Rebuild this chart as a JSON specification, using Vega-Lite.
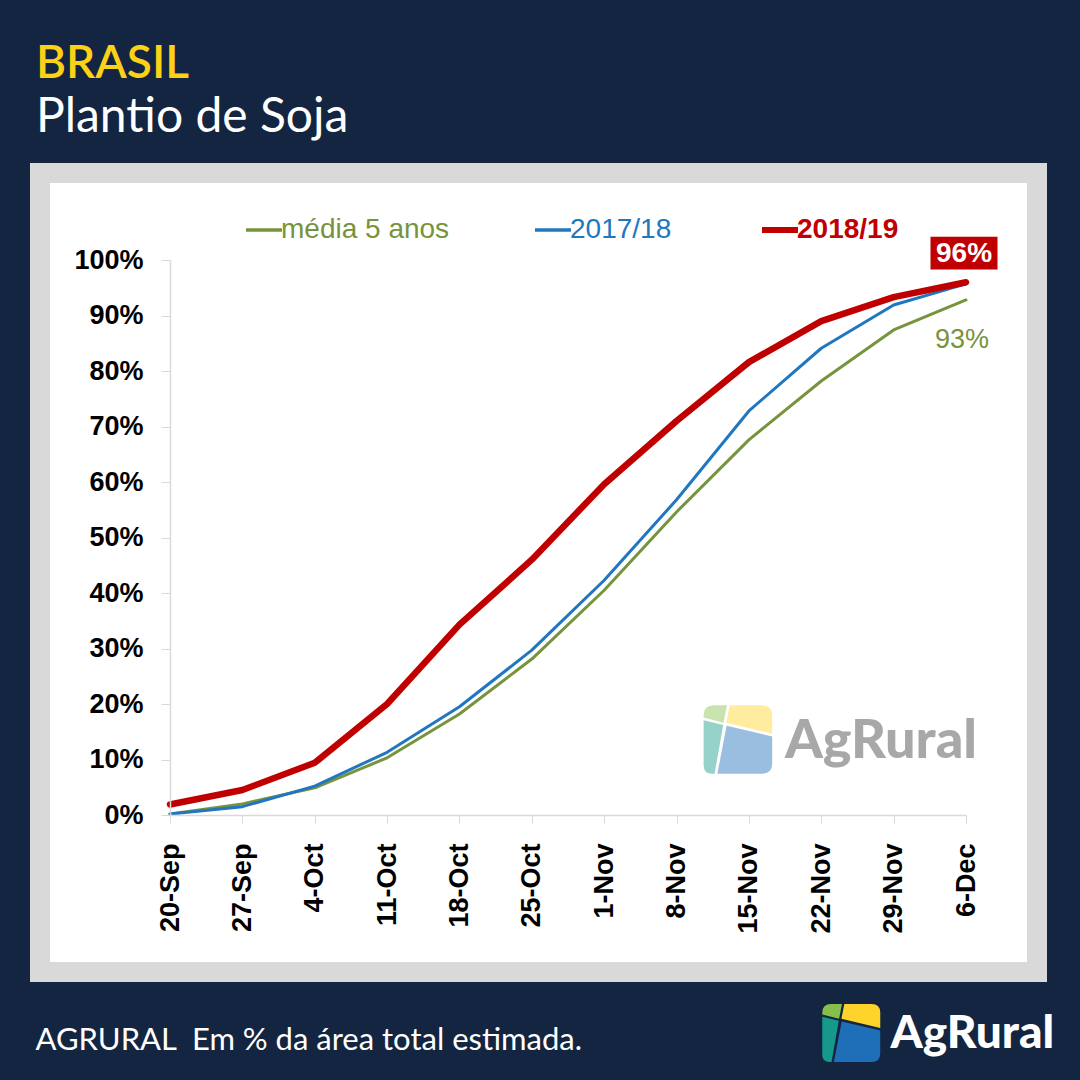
{
  "$schema": "https://vega.github.io/schema/vega-lite/v6.json",
  "width": 997,
  "height": 799,
  "autosize": {"type": "none"},
  "padding": {"left": 40, "top": 173, "right": 43, "bottom": 108},
  "background": "#132541",
  "title": {
    "text": "BRASIL",
    "subtitle": "Plantio de Soja",
    "anchor": "start",
    "frame": "group",
    "font": "Lato",
    "fontSize": 46,
    "fontWeight": 600,
    "color": "#FCD116",
    "subtitleFont": "Lato",
    "subtitleFontSize": 48,
    "subtitleFontWeight": 400,
    "subtitleColor": "#ffffff",
    "subtitlePadding": 6,
    "offset": 30,
    "dx": -4
  },
  "config": {
    "view": {"fill": "#ffffff", "stroke": "#d9d9d9", "strokeWidth": 20}
  },
  "data": {
    "values": [
      {"date": "20-Sep", "serie": "média 5 anos", "pct": 0.002},
      {"date": "27-Sep", "serie": "média 5 anos", "pct": 0.020},
      {"date": "4-Oct", "serie": "média 5 anos", "pct": 0.049},
      {"date": "11-Oct", "serie": "média 5 anos", "pct": 0.103},
      {"date": "18-Oct", "serie": "média 5 anos", "pct": 0.182},
      {"date": "25-Oct", "serie": "média 5 anos", "pct": 0.281},
      {"date": "1-Nov", "serie": "média 5 anos", "pct": 0.405},
      {"date": "8-Nov", "serie": "média 5 anos", "pct": 0.546},
      {"date": "15-Nov", "serie": "média 5 anos", "pct": 0.676},
      {"date": "22-Nov", "serie": "média 5 anos", "pct": 0.782},
      {"date": "29-Nov", "serie": "média 5 anos", "pct": 0.874},
      {"date": "6-Dec", "serie": "média 5 anos", "pct": 0.928},
      {"date": "20-Sep", "serie": "2017/18", "pct": 0.002},
      {"date": "27-Sep", "serie": "2017/18", "pct": 0.015},
      {"date": "4-Oct", "serie": "2017/18", "pct": 0.052},
      {"date": "11-Oct", "serie": "2017/18", "pct": 0.113},
      {"date": "18-Oct", "serie": "2017/18", "pct": 0.195},
      {"date": "25-Oct", "serie": "2017/18", "pct": 0.297},
      {"date": "1-Nov", "serie": "2017/18", "pct": 0.423},
      {"date": "8-Nov", "serie": "2017/18", "pct": 0.568},
      {"date": "15-Nov", "serie": "2017/18", "pct": 0.728},
      {"date": "22-Nov", "serie": "2017/18", "pct": 0.841},
      {"date": "29-Nov", "serie": "2017/18", "pct": 0.919},
      {"date": "6-Dec", "serie": "2017/18", "pct": 0.957},
      {"date": "20-Sep", "serie": "2018/19", "pct": 0.019},
      {"date": "27-Sep", "serie": "2018/19", "pct": 0.045},
      {"date": "4-Oct", "serie": "2018/19", "pct": 0.094},
      {"date": "11-Oct", "serie": "2018/19", "pct": 0.200},
      {"date": "18-Oct", "serie": "2018/19", "pct": 0.343},
      {"date": "25-Oct", "serie": "2018/19", "pct": 0.460},
      {"date": "1-Nov", "serie": "2018/19", "pct": 0.596},
      {"date": "8-Nov", "serie": "2018/19", "pct": 0.710},
      {"date": "15-Nov", "serie": "2018/19", "pct": 0.816},
      {"date": "22-Nov", "serie": "2018/19", "pct": 0.890},
      {"date": "29-Nov", "serie": "2018/19", "pct": 0.933},
      {"date": "6-Dec", "serie": "2018/19", "pct": 0.960}
    ]
  },
  "layer": [
    {
      "mark": {"type": "line", "interpolate": "linear", "strokeCap": "round", "strokeJoin": "round"},
      "encoding": {
        "x": {
          "field": "date", "type": "ordinal", "sort": null,
          "scale": {"type": "point", "domain": ["20-Sep", "27-Sep", "4-Oct", "11-Oct", "18-Oct", "25-Oct", "1-Nov", "8-Nov", "15-Nov", "22-Nov", "29-Nov", "6-Dec"], "range": [130, 926], "padding": 0},
          "axis": {
            "title": "AGRURAL\u00a0 Em % da área total estimada.",
            "titleX": -5, "titleY": 234, "titleAlign": "left", "titleAnchor": "start", "titleBaseline": "alphabetic",
            "titleFont": "Lato", "titleFontSize": 31, "titleFontWeight": 400, "titleColor": "#ffffff",
            "offset": -157, "labelAngle": -90, "labelFont": "Liberation Sans", "labelFontSize": 27, "labelFontWeight": "bold",
            "labelColor": "#000000", "labelPadding": 20, "tickSize": 8, "tickColor": "#d9d9d9", "domainColor": "#d9d9d9",
            "domainWidth": 1.5, "grid": false, "labelOverlap": false, "zindex": 1
          }
        },
        "y": {
          "field": "pct", "type": "quantitative",
          "scale": {"domain": [0, 1], "range": [642, 87], "nice": false, "zero": false},
          "axis": {
            "title": "AgRural", "titleX": 720, "titleY": 874, "titleAngle": 0, "titleAlign": "left", "titleBaseline": "alphabetic",
            "titleFont": "Lato", "titleFontSize": 46, "titleFontWeight": 900, "titleColor": "#ffffff",
            "offset": -130, "values": [0, 0.1, 0.2, 0.3, 0.4, 0.5, 0.6, 0.7, 0.8, 0.9, 1], "format": ".0%",
            "labelFont": "Liberation Sans", "labelFontSize": 27, "labelFontWeight": "bold", "labelColor": "#000000",
            "labelPadding": 18, "tickSize": 9, "tickColor": "#d9d9d9", "domainColor": "#d9d9d9", "domainWidth": 1.5, "grid": false, "zindex": 1
          }
        },
        "color": {
          "field": "serie", "type": "nominal",
          "scale": {"domain": ["média 5 anos", "2017/18", "2018/19"], "range": ["#77933C", "#2077C0", "#C00000"]},
          "legend": {
            "title": null, "orient": "none", "legendX": 210, "legendY": 43, "direction": "horizontal", "padding": 0,
            "symbolType": "stroke", "symbolSize": 1296, "symbolStrokeWidth": 3.5, "labelLimit": 400,
            "labelFont": "Liberation Sans", "labelFontSize": 28, "labelOffset": 3, "columnPadding": 78,
            "encode": {
              "symbols": {"update": {"strokeWidth": {"signal": "datum.value === '2018/19' ? 6 : 3.5"}}},
              "labels": {"update": {"fill": {"scale": "color", "field": "value"}, "fontWeight": {"signal": "datum.value === '2018/19' ? 'bold' : 'normal'"}}}
            }
          }
        },
        "strokeWidth": {"condition": {"test": "datum.serie === '2018/19'", "value": 6.5}, "value": 3}
      }
    },
    {
      "data": {"values": [{"part": "g"}, {"part": "y"}, {"part": "t"}, {"part": "b"}]},
      "mark": {"type": "point", "filled": true, "size": 4700, "opacity": 0.45, "strokeWidth": 0, "xOffset": -11, "yOffset": -20, "clip": false},
      "encoding": {
        "x": {"datum": "15-Nov", "type": "ordinal"},
        "y": {"datum": 0.1, "type": "quantitative"},
        "shape": {
          "field": "part", "type": "nominal", "legend": null,
          "scale": {
            "domain": ["g", "y", "t", "b"],
            "range": [
              "M-1,-0.7Q-1,-1,-0.7,-1L-0.32,-1L-0.42,-0.49L-1,-0.64Z",
              "M-0.24,-1L0.7,-1Q1,-1,1,-0.7L1,-0.17L-0.34,-0.49Z",
              "M-1,-0.56L-0.43,-0.42L-0.68,1L-0.75,1Q-1,1,-1,0.75Z",
              "M-0.33,-0.4L1,-0.09L1,0.7Q1,1,0.7,1L-0.6,1Z"
            ]
          }
        },
        "fill": {
          "field": "part", "type": "nominal", "legend": null,
          "scale": {"domain": ["g", "y", "t", "b"], "range": ["#86C04A", "#FFD42A", "#16998A", "#1F6FB8"]}
        }
      }
    },
    {
      "data": {"values": [{}]},
      "mark": {"type": "text", "text": "AgRural", "font": "Lato", "fontWeight": 900, "fontSize": 54, "color": "#a8a8a8", "align": "left", "baseline": "alphabetic", "dx": 36, "dy": -2},
      "encoding": {
        "x": {"datum": "15-Nov", "type": "ordinal"},
        "y": {"datum": 0.1, "type": "quantitative"}
      }
    },
    {
      "transform": [{"filter": "datum.serie === '2018/19' && datum.date === '6-Dec'"}],
      "mark": {"type": "point", "shape": "M-1,-0.49H1V0.49H-1Z", "size": 4489, "filled": true, "color": "#C00000", "opacity": 1, "strokeWidth": 0, "xOffset": -2, "yOffset": -29},
      "encoding": {
        "x": {"field": "date", "type": "ordinal"},
        "y": {"field": "pct", "type": "quantitative"}
      }
    },
    {
      "transform": [{"filter": "datum.serie === '2018/19' && datum.date === '6-Dec'"}],
      "mark": {"type": "text", "font": "Liberation Sans", "fontWeight": "bold", "fontSize": 28, "color": "#ffffff", "align": "center", "baseline": "middle", "dx": -2, "dy": -28},
      "encoding": {
        "x": {"field": "date", "type": "ordinal"},
        "y": {"field": "pct", "type": "quantitative"},
        "text": {"field": "pct", "type": "quantitative", "format": ".0%"}
      }
    },
    {
      "transform": [{"filter": "datum.serie === 'média 5 anos' && datum.date === '6-Dec'"}],
      "mark": {"type": "text", "font": "Liberation Sans", "fontSize": 27, "color": "#77933C", "align": "center", "baseline": "middle", "dx": -4, "dy": 40},
      "encoding": {
        "x": {"field": "date", "type": "ordinal"},
        "y": {"field": "pct", "type": "quantitative"},
        "text": {"field": "pct", "type": "quantitative", "format": ".0%"}
      }
    },
    {
      "data": {"values": [{"part": "g"}, {"part": "y"}, {"part": "t"}, {"part": "b"}]},
      "mark": {"type": "point", "filled": true, "size": 3364, "opacity": 1, "strokeWidth": 0, "xOffset": 30, "yOffset": 218, "clip": false},
      "encoding": {
        "x": {"datum": "22-Nov", "type": "ordinal"},
        "y": {"datum": 0, "type": "quantitative"},
        "shape": {"field": "part", "type": "nominal", "legend": null},
        "fill": {"field": "part", "type": "nominal", "legend": null}
      }
    }
  ]
}
